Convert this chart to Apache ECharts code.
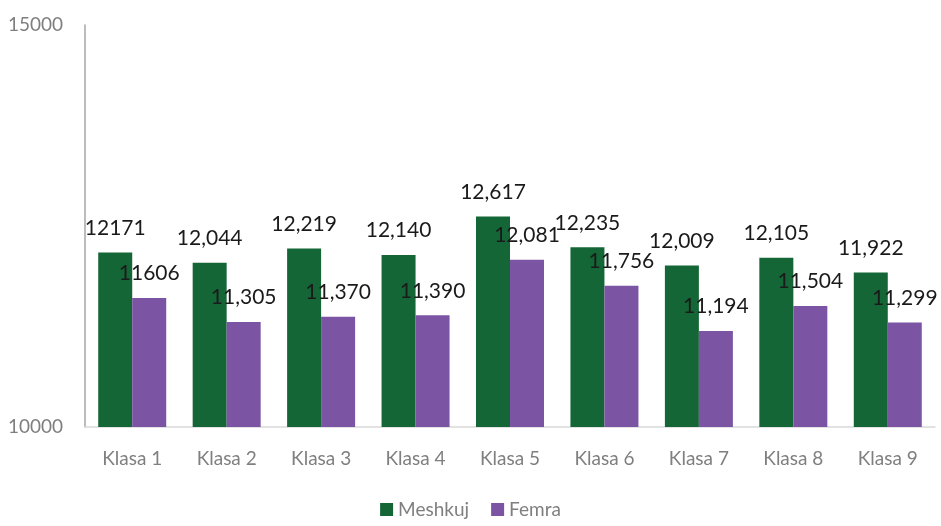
<!DOCTYPE html>
<html lang="en">
<head>
    <meta charset="UTF-8">
    <title>Klasa</title>
    <style>
        html, body { margin: 0; padding: 0; background: #fff; }
        #container { width: 941px; height: 526px; }
    </style>
</head>
<body>
<div id="container"></div>
<script src="https://cdn.jsdelivr.net/npm/echarts@6/dist/echarts.min.js"></script>
<script>
    var categories = ['Klasa 1', 'Klasa 2', 'Klasa 3', 'Klasa 4', 'Klasa 5', 'Klasa 6', 'Klasa 7', 'Klasa 8', 'Klasa 9'];
    var meshkuj = [12171, 12044, 12219, 12140, 12617, 12235, 12009, 12105, 11922];
    var femra = [11606, 11305, 11370, 11390, 12081, 11756, 11194, 11504, 11299];
    // labels as printed on the chart (first pair has no thousands separator)
    var meshkujLabels = ['12171', '12,044', '12,219', '12,140', '12,617', '12,235', '12,009', '12,105', '11,922'];
    var femraLabels = ['11606', '11,305', '11,370', '11,390', '12,081', '11,756', '11,194', '11,504', '11,299'];

    var font = 'Lato, "Open Sans", sans-serif';
    var myChart = echarts.init(document.getElementById('container'));

    var option = {
        animation: false,
        textStyle: { fontFamily: font },
        grid: { left: 85, right: 6, top: 25, bottom: 99 },
        legend: {
            bottom: 2,
            left: 'center',
            itemWidth: 13,
            itemHeight: 13,
            itemGap: 22,
            icon: 'rect',
            textStyle: { color: '#7f7f7f', fontSize: 19, fontFamily: font },
            data: ['Meshkuj', 'Femra']
        },
        xAxis: {
            type: 'category',
            data: categories,
            axisLine: { lineStyle: { color: '#d9d9d9', width: 1.5 } },
            axisTick: { show: false },
            axisLabel: { color: '#7f7f7f', fontSize: 19, margin: 22, fontFamily: font }
        },
        yAxis: {
            type: 'value',
            min: 10000,
            max: 15000,
            interval: 5000,
            axisLine: { show: true, lineStyle: { color: '#a6a6a6', width: 1.5 } },
            axisTick: { show: false },
            splitLine: { show: false },
            axisLabel: {
                color: '#7f7f7f', fontSize: 19, margin: 22, fontFamily: font,
                formatter: function (v) { return String(v); }
            }
        },
        series: [
            {
                name: 'Meshkuj',
                type: 'bar',
                data: meshkuj,
                barGap: '0%',
                barCategoryGap: '28%',
                itemStyle: { color: '#156636' },
                label: {
                    show: true,
                    position: 'top',
                    distance: 14,
                    color: '#1a1a1a',
                    fontSize: 21,
                    fontFamily: font,
                    formatter: function (p) { return meshkujLabels[p.dataIndex]; }
                }
            },
            {
                name: 'Femra',
                type: 'bar',
                data: femra,
                itemStyle: { color: '#7b55a3' },
                label: {
                    show: true,
                    position: 'top',
                    distance: 14,
                    color: '#1a1a1a',
                    fontSize: 21,
                    fontFamily: font,
                    formatter: function (p) { return femraLabels[p.dataIndex]; }
                }
            }
        ]
    };

    myChart.setOption(option);
</script>
</body>
</html>
